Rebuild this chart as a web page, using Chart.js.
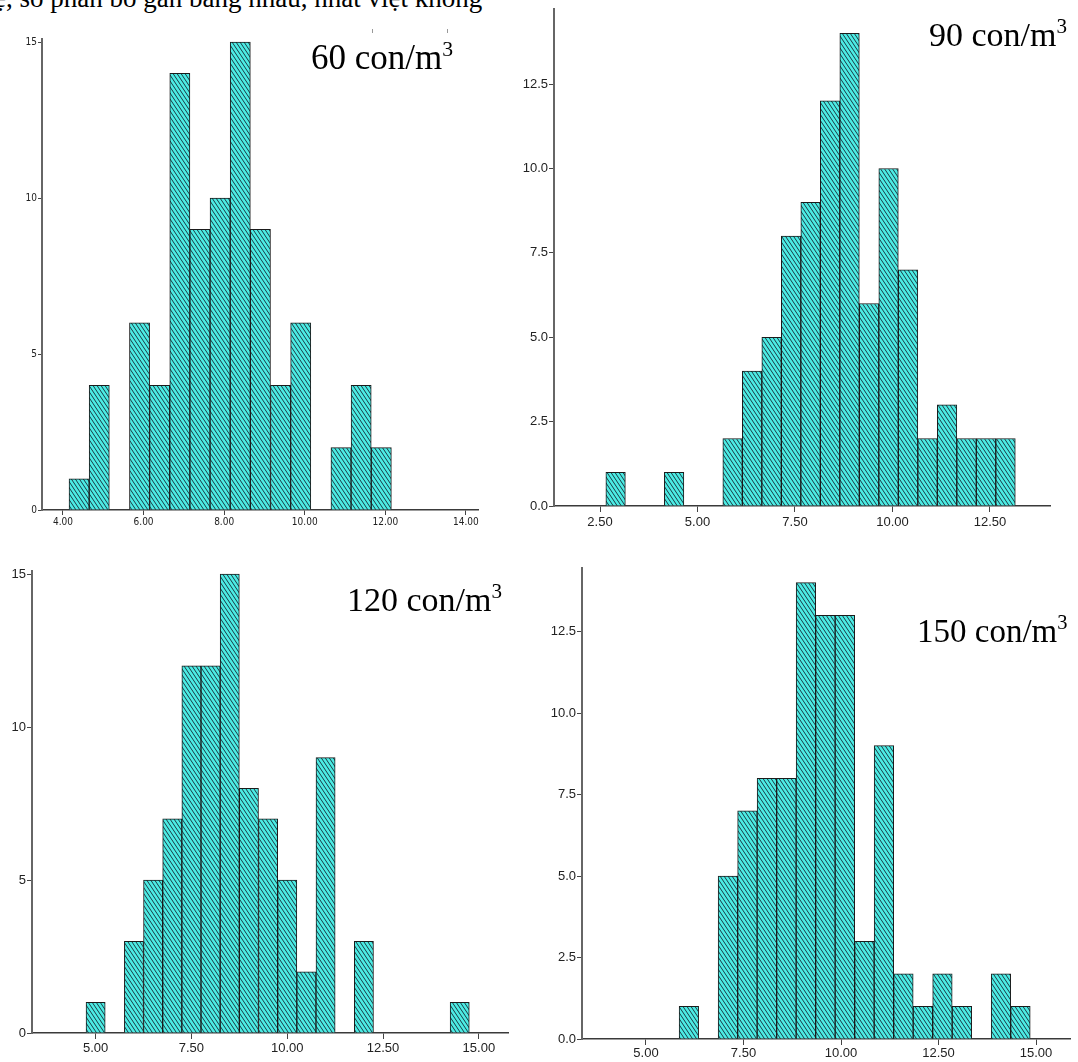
<!DOCTYPE html>
<html>
<head>
<meta charset="utf-8">
<script src="https://cdn.jsdelivr.net/npm/chart.js@4.4.1/dist/chart.umd.min.js"></script>
<style>
  html, body { margin:0; padding:0; background:#fff; }
  body { width:1078px; height:1062px; position:relative; overflow:hidden; }
  canvas { position:absolute; }
  .lab { position:absolute; font-family:"Liberation Serif","Times New Roman",serif; color:#000; white-space:nowrap; line-height:1; }
  .lab span { font-size:0.62em; position:relative; top:-0.62em; }
  .top { position:absolute; font-family:"Liberation Serif","Times New Roman",serif; font-size:27px; white-space:nowrap; line-height:1; color:#000; }
  .mk { position:absolute; width:1px; height:4px; background:#999; }
</style>
</head>
<body>
<div class="top" id="topText" style="left:-6px; top:-15px;">ệ, số phân bố gần bằng nhau, nhất việt không</div>
<div class="mk" style="left:372px; top:29px;"></div>
<div class="mk" style="left:447px; top:29px;"></div>

<canvas id="c60" width="540" height="540" style="left:0px; top:0px;"></canvas>
<canvas id="c90" width="578" height="540" style="left:500px; top:0px;"></canvas>
<canvas id="c120" width="540" height="522" style="left:0px; top:540px;"></canvas>
<canvas id="c150" width="538" height="522" style="left:540px; top:540px;"></canvas>

<div class="lab" style="left:311px; top:40px; font-size:35px;">60 con/m<span>3</span></div>
<div class="lab" style="left:929px; top:18px; font-size:34px;">90 con/m<span>3</span></div>
<div class="lab" style="left:347px; top:583px; font-size:34px;">120 con/m<span>3</span></div>
<div class="lab" style="left:917px; top:615px; font-size:33px;">150 con/m<span>3</span></div>

<script>
// ---- data (bin centres, counts, ticks) ----
const bins60   = [4.4, 4.9, 5.9, 6.4, 6.9, 7.4, 7.9, 8.4, 8.9, 9.4, 9.9, 10.9, 11.4, 11.9];
const counts60 = [1, 4, 6, 4, 14, 9, 10, 15, 9, 4, 6, 2, 4, 2];

const bins90   = [2.9, 4.4, 5.9, 6.4, 6.9, 7.4, 7.9, 8.4, 8.9, 9.4, 9.9, 10.4, 10.9, 11.4, 11.9, 12.4, 12.9];
const counts90 = [1, 1, 2, 4, 5, 8, 9, 12, 14, 6, 10, 7, 2, 3, 2, 2, 2];

const bins120   = [5.0, 6.0, 6.5, 7.0, 7.5, 8.0, 8.5, 9.0, 9.5, 10.0, 10.5, 11.0, 12.0, 14.5];
const counts120 = [1, 3, 5, 7, 12, 12, 15, 8, 7, 5, 2, 9, 3, 1];

const bins150   = [6.1, 7.1, 7.6, 8.1, 8.6, 9.1, 9.6, 10.1, 10.6, 11.1, 11.6, 12.1, 12.6, 13.1, 14.1, 14.6];
const counts150 = [1, 5, 7, 8, 8, 14, 13, 13, 3, 9, 2, 1, 2, 1, 2, 1];

const xTicks60  = [4, 6, 8, 10, 12, 14];
const xLabels60 = ["4.00", "6.00", "8.00", "10.00", "12.00", "14.00"];
const yTicks60  = [0, 5, 10, 15];
const yLabels60 = ["0", "5", "10", "15"];

const xTicks90  = [2.5, 5, 7.5, 10, 12.5];
const xLabels90 = ["2.50", "5.00", "7.50", "10.00", "12.50"];
const yTicks90  = [0, 2.5, 5, 7.5, 10, 12.5];
const yLabels90 = ["0.0", "2.5", "5.0", "7.5", "10.0", "12.5"];

const xTicks120  = [5, 7.5, 10, 12.5, 15];
const xLabels120 = ["5.00", "7.50", "10.00", "12.50", "15.00"];
const yTicks120  = [0, 5, 10, 15];
const yLabels120 = ["0", "5", "10", "15"];

const xTicks150  = [5, 7.5, 10, 12.5, 15];
const xLabels150 = ["5.00", "7.50", "10.00", "12.50", "15.00"];
const yTicks150  = [0, 2.5, 5, 7.5, 10, 12.5];
const yLabels150 = ["0.0", "2.5", "5.0", "7.5", "10.0", "12.5"];

// ---- hatch pattern ----
function makeHatch() {
  const t = document.createElement('canvas');
  t.width = 4; t.height = 6;
  const g = t.getContext('2d');
  g.fillStyle = '#4cece4';
  g.fillRect(0, 0, 4, 6);
  g.strokeStyle = '#1c3a44';
  g.lineWidth = 1.0;
  for (let k = -1; k <= 1; k++) {
    g.beginPath();
    g.moveTo(k * 4, 0);
    g.lineTo(k * 4 + 4, 6);
    g.stroke();
  }
  return t;
}
const hatchTile = makeHatch();

function hist(id, bins, counts, xT, xL, yT, yL, geo) {
  const canvas = document.getElementById(id);
  const ctx = canvas.getContext('2d');
  const pattern = ctx.createPattern(hatchTile, 'repeat');
  const tFont = { family: geo.font, size: geo.fontSize };
  return new Chart(ctx, {
    type: 'bar',
    data: {
      datasets: [{
        data: bins.map((b, i) => ({ x: b, y: counts[i] })),
        backgroundColor: pattern,
        borderColor: '#1b1b1b',
        borderWidth: 1,
        borderSkipped: 'start',
        barPercentage: 1,
        categoryPercentage: 1
      }]
    },
    options: {
      responsive: false,
      animation: false,
      devicePixelRatio: 1,
      layout: { padding: { top: geo.top, right: geo.right, left: 0, bottom: 0 } },
      plugins: { legend: { display: false }, tooltip: { enabled: false } },
      scales: {
        x: {
          type: 'linear',
          offset: false,
          min: geo.xmin, max: geo.xmax,
          grid: { display: true, offset: false, drawOnChartArea: false, drawTicks: true, tickLength: geo.xTick, color: '#444', lineWidth: 1 },
          border: { display: true, color: '#3a3a3a', width: 1.5 },
          ticks: {
            font: tFont, color: '#222', padding: geo.xPad, autoSkip: false, maxRotation: 0,
            callback: (v) => { const i = xT.indexOf(v); return i >= 0 ? xL[i] : ''; }
          },
          afterBuildTicks: (s) => { s.ticks = xT.map(v => ({ value: v })); },
          afterFit: (s) => { s.height = geo.xH; }
        },
        y: {
          type: 'linear',
          min: 0, max: geo.ymax,
          grid: { display: true, offset: false, drawOnChartArea: false, drawTicks: true, tickLength: geo.yTick, color: '#444', lineWidth: 1 },
          border: { display: true, color: '#666', width: 2 },
          ticks: {
            font: tFont, color: '#222', padding: 1, autoSkip: false,
            callback: (v) => { const i = yT.indexOf(v); return i >= 0 ? yL[i] : ''; }
          },
          afterBuildTicks: (s) => { s.ticks = yT.map(v => ({ value: v })); },
          afterFit: (s) => { s.width = geo.yW; }
        }
      }
    }
  });
}

const narrow = '"Liberation Sans Narrow","Arial Narrow","DejaVu Sans Condensed",sans-serif';
const sans = '"Liberation Sans",Arial,sans-serif';

hist('c60', bins60, counts60, xTicks60, xLabels60, yTicks60, yLabels60,
  { top: 39, right: 62, xH: 30, yW: 42, xmin: 3.479, xmax: 14.3, ymax: 15.1, font: narrow, fontSize: 10, xTick: 5, yTick: 4, xPad: 1 });
hist('c90', bins90, counts90, xTicks90, xLabels90, yTicks90, yLabels90,
  { top: 7, right: 28, xH: 34, yW: 54, xmin: 1.32, xmax: 14.04, ymax: 14.73, font: sans, fontSize: 13, xTick: 6, yTick: 5, xPad: 3 });
hist('c120', bins120, counts120, xTicks120, xLabels120, yTicks120, yLabels120,
  { top: 31, right: 32, xH: 29, yW: 32, xmin: 3.34, xmax: 15.76, ymax: 15.1, font: sans, fontSize: 13, xTick: 6, yTick: 5, xPad: 2 });
hist('c150', bins150, counts150, xTicks150, xLabels150, yTicks150, yLabels150,
  { top: 28, right: 8, xH: 23, yW: 42, xmin: 3.36, xmax: 15.87, ymax: 14.45, font: sans, fontSize: 13, xTick: 6, yTick: 5, xPad: 1 });
</script>
</body>
</html>
